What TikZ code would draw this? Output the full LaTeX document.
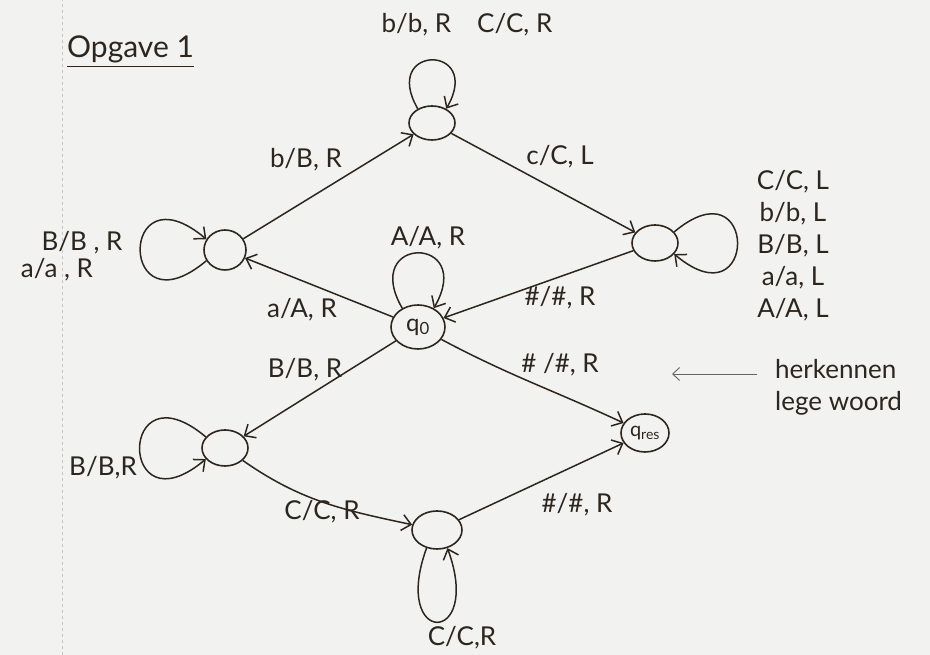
\documentclass[tikz,border=0pt]{standalone}
\usepackage{fontspec}
\setmainfont{Lato}
\usetikzlibrary{shapes.geometric,arrows.meta}
\definecolor{paper}{RGB}{242,242,240}
\definecolor{ink}{RGB}{45,38,30}
\begin{document}
\begin{tikzpicture}[x=1pt,y=1pt,
  state/.style={draw=ink, ellipse, line width=1.6pt, inner sep=0pt, text=ink, font=\fontsize{24}{26}\selectfont},
  trans/.style={draw=ink, line width=1.5pt, -{Straight Barb[length=9pt,width=16pt]}},
  lbl/.style={text=ink, font=\fontsize{26}{32}\selectfont, inner sep=0pt}]
\fill[paper] (0,0) rectangle (930,655);
\useasboundingbox (0,0) rectangle (930,655);
\draw[gray!45, dashed, line width=0.6pt] (62,0) -- (62,655);

% title
\node[lbl, anchor=base west, font=\fontsize{30}{34}\selectfont] (title) at (67,597) {Opgave 1};
\draw[ink, line width=1.4pt] ([yshift=-3pt]title.south west) -- ([yshift=-3pt]title.south east);

% states
\node[state, minimum width=46pt, minimum height=34pt] (T) at (432,532) {};
\node[state, minimum width=42pt, minimum height=40pt] (L) at (225,405) {};
\node[state, minimum width=46pt, minimum height=36pt] (Rt) at (655,412) {};
\node[state, minimum width=54pt, minimum height=44pt] (q0) at (418,328) {q\textsubscript{0}};
\node[state, minimum width=46pt, minimum height=36pt] (BL) at (225,207) {};
\node[state, minimum width=50pt, minimum height=38pt] (B) at (437,125) {};
\node[state, minimum width=48pt, minimum height=38pt, font=\fontsize{20}{22}\selectfont] (qres) at (645,222) {q\textsubscript{res}};

% transitions
\draw[trans] (L) -- (T);
\draw[trans] (T) -- (Rt);
\draw[trans] (Rt) -- (q0);
\draw[trans] (q0) -- (L);
\draw[trans] (q0) -- (BL);
\draw[trans] (q0) to[out=-28,in=155] (qres);
\draw[trans] (BL) to[out=-35,in=168] (B);
\draw[trans] (B) -- (qres);

% loops
\draw[trans] (T.135) .. controls +(120:75) and +(60:75) .. (T.45);
\draw[trans] (q0.130) .. controls +(120:85) and +(60:85) .. (q0.50);
\draw[trans] (L.210) .. controls +(220:115) and +(140:115) .. (L.150);
\draw[trans] (Rt.30) .. controls +(40:110) and +(-40:110) .. (Rt.-30);
\draw[trans] (BL.150) .. controls +(140:115) and +(220:115) .. (BL.210);
\draw[trans] (B.240) .. controls +(250:105) and +(290:105) .. (B.300);

% transition labels
\node[lbl] (lLT) at (306,495) {b/B, R};
\node[lbl] (lTR) at (560,498) {c/C, L};
\node[lbl] (lRq) at (560,357) {\#/\#, R};
\node[lbl] (lqL) at (302,345) {a/A, R};
\node[lbl] (lqq) at (428,417) {A/A, R};
\node[lbl] (lqres) at (560,290) {\# /\#, R};
\node[lbl] (lqBL) at (305,285) {B/B, R};
\node[lbl] (lBLB) at (322,143) {C/C, R};
\node[lbl] (lBq) at (577,150) {\#/\#, R};
\node[lbl] (lBB) at (462,17) {C/C,R};
\node[lbl] (lTT) at (467,630) {b/b, R\quad C/C, R};
\node[lbl] (lLL1) at (82,412) {B/B , R};
\node[lbl] (lLL2) at (57,385) {a/a , R};
\node[lbl] (lBLBL) at (103,187) {B/B,R};
\node[lbl, align=center] (lRR) at (793,409) {C/C, L\\b/b, L\\B/B, L\\a/a, L\\A/A, L};

% note
\node[lbl, align=left, anchor=west] (note) at (775,268) {herkennen\\lege woord};
\coordinate (ntail) at (757,281);
\coordinate (nhead) at (672,281);
\draw[gray!70!ink, line width=0.9pt, -{Straight Barb[length=7pt,width=13pt]}] (ntail) -- (nhead);
\end{tikzpicture}
\end{document}
